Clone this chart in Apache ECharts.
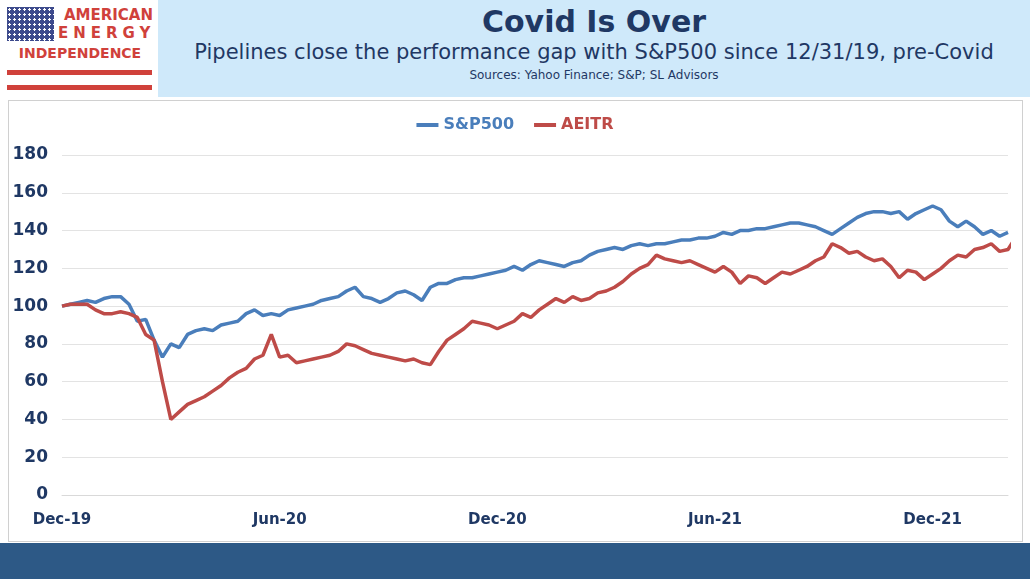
<!DOCTYPE html>
<html><head><meta charset="utf-8">
<script src="https://cdn.jsdelivr.net/npm/echarts@6/dist/echarts.min.js"></script>
<style>
body{margin:0;width:1030px;height:579px;position:relative;overflow:hidden;background:#fff;font-family:"DejaVu Sans",sans-serif}
#hdr{position:absolute;left:158px;top:0;width:872px;height:97px;background:#cfe9fa}
#frame{position:absolute;left:8px;top:100px;width:1013px;height:440px;border:1px solid #d0d0d0}
#chart{position:absolute;left:0;top:100px;width:1030px;height:443px}
#foot{position:absolute;left:0;top:543px;width:1030px;height:36px;background:#2d5986}
.t{position:absolute;left:158px;width:872px;text-align:center;color:#1f3864}
</style></head><body>
<div id="hdr"></div>
<div class="t" style="top:4px;font-size:30px;font-weight:bold">Covid Is Over</div>
<div class="t" style="top:40px;font-size:21px">Pipelines close the performance gap with S&amp;P500 since 12/31/19, pre-Covid</div>
<div class="t" style="top:68px;font-size:12px">Sources: Yahoo Finance; S&amp;P; SL Advisors</div>
<div style="position:absolute;left:7px;top:7px;width:47px;height:34px;background:#3d4a8c;background-image:radial-gradient(#fff 1px,transparent 1.3px);background-size:5px 5px"></div>
<div style="position:absolute;left:58px;top:6px;width:95px;text-align:right;color:#d0413b;font-weight:bold;font-size:15px;line-height:18px">AMERICAN<br><span style="letter-spacing:5px">ENERGY</span></div>
<div style="position:absolute;left:5px;top:45px;width:150px;text-align:center;color:#d0413b;font-weight:bold;font-size:14px">INDEPENDENCE</div>
<div style="position:absolute;left:7px;top:70px;width:145px;height:5px;background:#d0413b"></div>
<div style="position:absolute;left:7px;top:85px;width:145px;height:5px;background:#d0413b"></div>
<div id="frame"></div>
<div id="chart"></div>
<div id="foot"></div>
<script>
const tickLabels = {0:'Dec-19', 26:'Jun-20', 52:'Dec-20', 78:'Jun-21', 104:'Dec-21'};
const sp500 = [100,101,102,103,102,104,105,105,101,92,93,82,73,80,78,85,87,88,87,90,91,92,96,98,95,96,
95,98,99,100,101,103,104,105,108,110,105,104,102,104,107,108,106,103,110,112,112,114,115,115,116,117,
118,119,121,119,122,124,123,122,121,123,124,127,129,130,131,130,132,133,132,133,133,134,135,135,136,136,
137,139,138,140,140,141,141,142,143,144,144,143,142,140,138,141,144,147,149,150,150,149,150,146,149,151,
153,151,145,142,145,142,138,140,137,139];
const aeitr = [100,101,101,101,98,96,96,97,96,94,85,82,60,40,44,48,50,52,55,58,62,65,67,72,74,85,
73,74,70,71,72,73,74,76,80,79,77,75,74,73,72,71,72,70,69,76,82,85,88,92,91,90,88,
90,92,96,94,98,101,104,102,105,103,104,107,108,110,113,117,120,122,127,125,124,123,124,122,120,118,
121,118,112,116,115,112,115,118,117,119,121,124,126,133,131,128,129,126,124,125,121,115,119,118,114,117,
120,124,127,126,130,131,133,129,130,137];
const cats = sp500.map((_, i) => i);
const font = 'DejaVu Sans';
const chart = echarts.init(document.getElementById('chart'));
chart.setOption({
  animation: false,
  legend: {top: 12, itemWidth: 22, itemHeight: 4, itemGap: 20, icon: 'rect',
    textStyle: {fontSize: 16, fontWeight: 'bold', fontFamily: font},
    data: [{name: 'S&P500', textStyle: {color: '#4a7ebb'}}, {name: 'AEITR', textStyle: {color: '#be4b48'}}]},
  grid: {left: 62, right: 22, top: 55, bottom: 48},
  xAxis: {type: 'category', data: cats, boundaryGap: false,
    axisLine: {lineStyle: {color: '#d9d9d9'}}, axisTick: {show: false},
    axisLabel: {interval: i => tickLabels[i] !== undefined, formatter: v => tickLabels[v] || '',
      color: '#1f3864', fontWeight: 'bold', fontSize: 15, fontFamily: font, margin: 18}},
  yAxis: {type: 'value', min: 0, max: 180, interval: 20,
    splitLine: {lineStyle: {color: '#e3e3e3'}},
    axisLabel: {color: '#1f3864', fontWeight: 'bold', fontSize: 17, fontFamily: font, margin: 14}},
  series: [
    {name: 'S&P500', type: 'line', data: sp500, showSymbol: false, color: '#4a7ebb', lineStyle: {width: 3.5}},
    {name: 'AEITR', type: 'line', data: aeitr, showSymbol: false, color: '#be4b48', lineStyle: {width: 3.5}}
  ]
});
</script></body></html>
